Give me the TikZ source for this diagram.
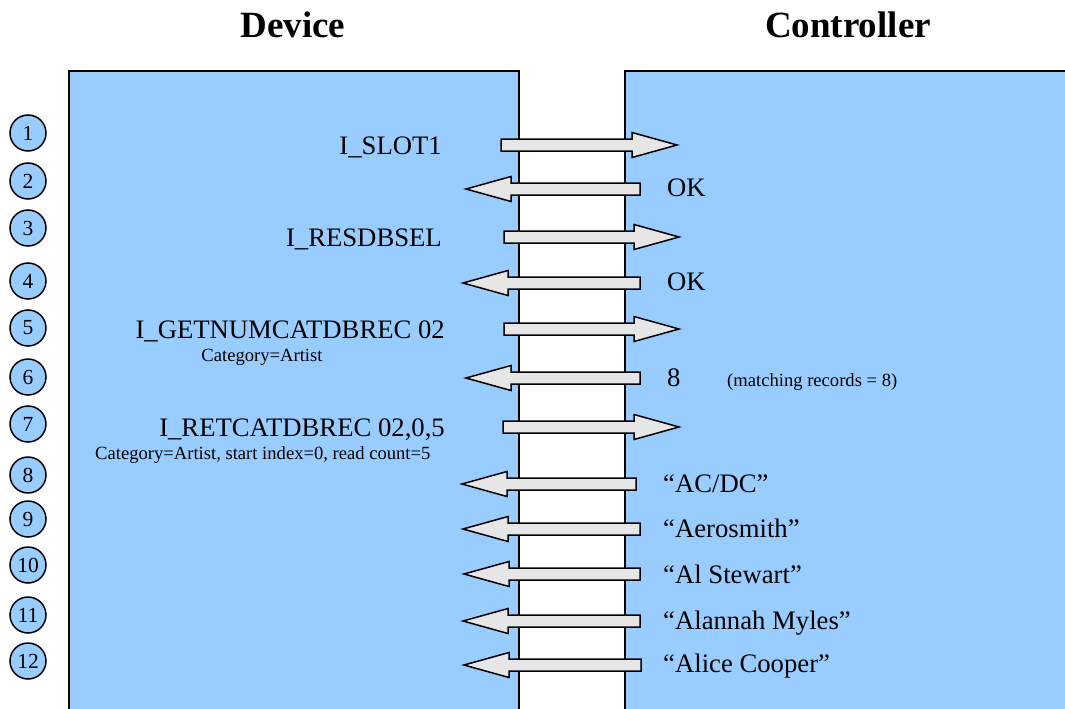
\documentclass[tikz,border=0pt]{standalone}
\usepackage{fontspec}
\setmainfont{Liberation Serif}
\definecolor{panelblue}{HTML}{99CCFF}
\definecolor{arrowgray}{HTML}{E6E6E6}
\begin{document}
\begin{tikzpicture}
    [
        x=1pt, y=-1pt,
        stepnum/.style={circle, draw=black, fill=panelblue, line width=1.5pt,
            minimum size=36pt, inner sep=0pt, font=\fontsize{21.5}{22}\selectfont},
        cmd/.style={anchor=base east, inner sep=0pt, font=\fontsize{26.7}{30}\selectfont},
        reply/.style={anchor=base west, inner sep=0pt, font=\fontsize{26.7}{30}\selectfont},
        note/.style={inner sep=0pt, font=\fontsize{18.6}{21}\selectfont},
        title/.style={font=\fontsize{37}{40}\selectfont\bfseries},
        msg/.style={fill=arrowgray, draw=black, line width=1.5pt, line join=miter}
    ]
    \useasboundingbox (0,0) rectangle (1065,709);
    \fill[panelblue] (69,71) rectangle (519,720);
    \draw[line width=2pt] (69,720) -- (69,71) -- (519,71) -- (519,720);
    \fill[panelblue] (625,71) rectangle (1075,720);
    \draw[line width=2pt] (625,720) -- (625,71) -- (1075,71);

    \node[title] (device) at (293,25) {Device};
    \node[title] (controller) at (848,25) {Controller};

    \foreach \n/\y in {1/133, 2/181, 3/228, 4/281, 5/328, 6/377,
                       7/424, 8/475, 9/519, 10/565, 11/615, 12/661}
        \node[stepnum] (s\n) at (28,\y) {\n};

    \foreach \y/\a/\b in {145/501/677, 189/640/466, 237/504/679, 283/640/463,
                          329/504/679, 378/640/466, 427/503/679, 484/636/462,
                          529/640/463, 574/640/464, 621/640/463, 665/641/464}
    {
        \pgfmathsetmacro\h{\b-45*sign(\b-\a)}
        \draw[msg] (\a,\y-6) -- (\h,\y-6) -- (\h,\y-12.5) -- (\b,\y)
            -- (\h,\y+12.5) -- (\h,\y+6) -- (\a,\y+6) -- cycle;
    }

    \node[cmd] (slot) at (442,154) {I\_SLOT1};
    \node[reply] (ok1) at (667,196) {OK};
    \node[cmd] (resdbsel) at (442,246) {I\_RESDBSEL};
    \node[reply] (ok2) at (667,290) {OK};
    \node[cmd] (getnum) at (445,338) {I\_GETNUMCATDBREC 02};
    \node[note, anchor=base] (getnumarg) at (262,361) {Category=Artist};
    \node[reply] (count) at (667,386) {8};
    \node[note, anchor=base west] (countnote) at (727,386) {(matching records = 8)};
    \node[cmd] (retcat) at (445,436) {I\_RETCATDBREC 02,0,5};
    \node[note, anchor=base west] (retcatarg) at (95,459)
        {Category=Artist, start index=0, read count=5};
    \node[reply] (r1) at (663,492) {“AC/DC”};
    \node[reply] (r2) at (663,537) {“Aerosmith”};
    \node[reply] (r3) at (663,583) {“Al Stewart”};
    \node[reply] (r4) at (663,629) {“Alannah Myles”};
    \node[reply] (r5) at (663,672) {“Alice Cooper”};
\end{tikzpicture}
\end{document}
